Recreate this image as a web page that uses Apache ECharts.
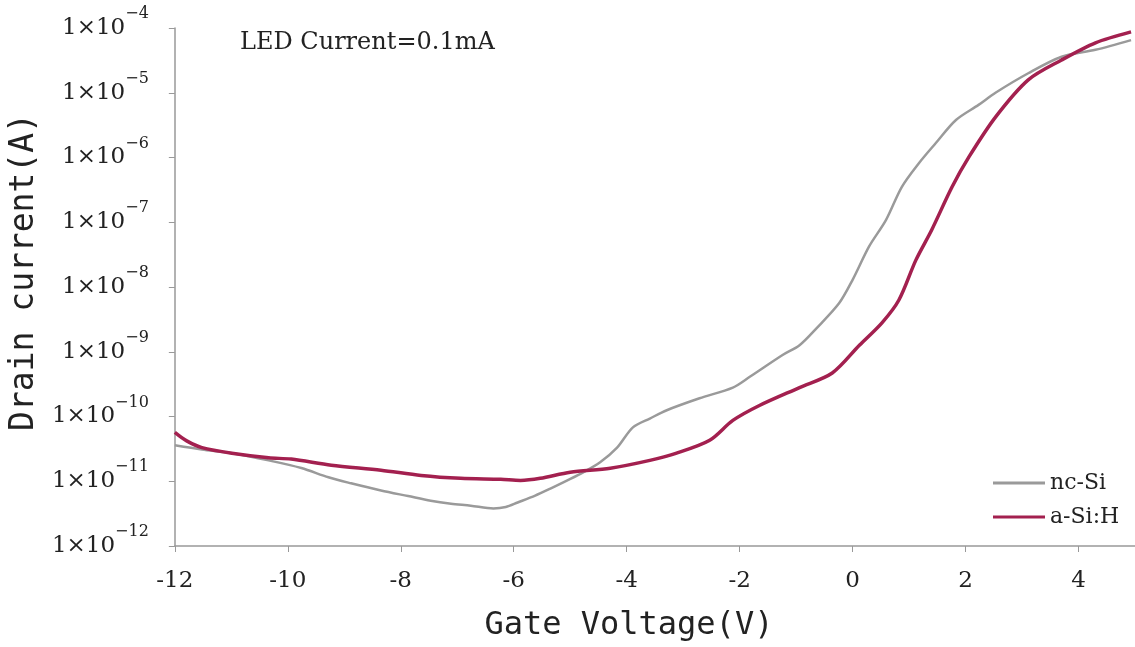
<!DOCTYPE html>
<html>
<head>
<meta charset="utf-8">
<script src="https://cdn.jsdelivr.net/npm/echarts@6/dist/echarts.min.js"></script>
<style>
  html, body { margin: 0; padding: 0; background: #fff; }
  #chart { width: 1135px; height: 647px; }
</style>
</head>
<body>
<div id="chart"></div>
<script>
// gate voltage (V) and drain current (A)
const ncX = [-12, -11.52, -10.99, -10.34, -9.76, -9.28, -8.88, -8.35, -7.87, -7.47, -7.11, -6.76, -6.36, -6.14, -5.93, -5.62, -5.35, -5.05, -4.77, -4.47, -4.17, -3.89, -3.59, -3.29, -2.71, -2.12, -1.82, -1.24, -0.94, -0.64, -0.24, 0.0, 0.29, 0.59, 0.87, 1.17, 1.47, 1.83, 2.23, 2.53, 3.11, 3.70, 4.30, 4.93];
const ncY = [3.6e-11, 3.1e-11, 2.7e-11, 2.1e-11, 1.6e-11, 1.15e-11, 9.3e-12, 7.2e-12, 5.9e-12, 5.0e-12, 4.5e-12, 4.2e-12, 3.8e-12, 4.0e-12, 4.7e-12, 6.0e-12, 7.7e-12, 1.03e-11, 1.37e-11, 1.96e-11, 3.3e-11, 6.8e-11, 9.3e-11, 1.25e-10, 1.91e-10, 2.8e-10, 4.1e-10, 8.9e-10, 1.26e-9, 2.3e-9, 5.6e-9, 1.29e-8, 4.2e-8, 1.08e-7, 3.5e-7, 8.1e-7, 1.66e-6, 3.8e-6, 6.5e-6, 1.0e-5, 2.0e-5, 3.6e-5, 4.6e-5, 6.5e-5];

const aX = [-12, -11.79, -11.52, -10.99, -10.34, -9.94, -9.23, -8.35, -7.64, -6.94, -6.23, -5.88, -5.53, -5.0, -4.29, -3.59, -3.13, -2.53, -2.12, -1.65, -0.94, -0.36, 0.12, 0.52, 0.82, 1.12, 1.40, 1.76, 2.06, 2.53, 3.11, 3.70, 4.30, 4.93];
const aY = [5.7e-11, 4.2e-11, 3.3e-11, 2.7e-11, 2.3e-11, 2.2e-11, 1.77e-11, 1.48e-11, 1.23e-11, 1.11e-11, 1.07e-11, 1.03e-11, 1.11e-11, 1.38e-11, 1.59e-11, 2.1e-11, 2.7e-11, 4.3e-11, 8.7e-11, 1.48e-10, 2.8e-10, 4.7e-10, 1.26e-9, 2.8e-9, 6.3e-9, 2.6e-8, 7.6e-8, 3.5e-7, 1.02e-6, 4.2e-6, 1.58e-5, 3.2e-5, 5.9e-5, 8.7e-5];

const seriesNames = ['nc-Si', 'a-Si:H'];
const note = 'LED Current=0.1mA';

const serif = 'DejaVu Serif';
const mono = 'DejaVu Sans Mono';

const chart = echarts.init(document.getElementById('chart'), null, { renderer: 'canvas' });

const pairs = (xs, ys) => xs.map((x, i) => [x, ys[i]]);

chart.setOption({
  animation: false,
  backgroundColor: '#fff',
  grid: { left: 173, top: 28, width: 964, height: 518 },
  graphic: [{
    type: 'text',
    left: 240,
    top: 31,
    style: { text: note, font: '24px "DejaVu Serif"', fill: '#222' }
  }],
  legend: {
    left: 988,
    top: 467,
    orient: 'vertical',
    icon: 'rect',
    itemWidth: 52,
    itemHeight: 3,
    itemGap: 12,
    textStyle: { fontFamily: serif, fontSize: 22, color: '#222' },
    data: seriesNames
  },
  xAxis: {
    type: 'value',
    min: -12,
    max: 5,
    interval: 2,
    name: 'Gate Voltage(V)',
    nameLocation: 'middle',
    nameGap: 64,
    nameTextStyle: { fontFamily: mono, fontSize: 32, color: '#222', padding: [0, 52, 0, 0] },
    splitLine: { show: false },
    axisLine: { lineStyle: { color: '#999', width: 1.5 } },
    axisTick: { length: 6, lineStyle: { color: '#999' } },
    axisLabel: {
      margin: 24, showMaxLabel: false,
      fontFamily: serif, fontSize: 23, color: '#222'
    }
  },
  yAxis: {
    type: 'log',
    logBase: 10,
    min: 1e-12,
    max: 1e-4,
    name: 'Drain current(A)',
    nameLocation: 'middle',
    nameGap: 124,
    nameTextStyle: { fontFamily: mono, fontSize: 33, color: '#222', padding: [0, 0, 0, 30] },
    splitLine: { show: false },
    axisLine: { show: true, onZero: false, lineStyle: { color: '#999', width: 1.5 } },
    axisTick: { show: true, length: 6, lineStyle: { color: '#999' } },
    axisLabel: {
      margin: 26,
      formatter: v => '{a|1×10}{b|−' + Math.round(-Math.log10(v)) + '}',
      rich: {
        a: { fontFamily: serif, fontSize: 23, color: '#222', lineHeight: 44 },
        b: { fontFamily: serif, fontSize: 16, color: '#222', lineHeight: 10, verticalAlign: 'top' }
      }
    }
  },
  series: [
    {
      name: seriesNames[0],
      type: 'line',
      data: pairs(ncX, ncY),
      symbol: 'none',
      smooth: 0.3,
      color: '#9a9a9a',
      lineStyle: { color: '#9a9a9a', width: 2.5 },
      z: 2
    },
    {
      name: seriesNames[1],
      type: 'line',
      data: pairs(aX, aY),
      symbol: 'none',
      smooth: 0.3,
      color: '#a3204f',
      lineStyle: { color: '#a3204f', width: 3.5 },
      z: 3
    }
  ]
});
</script>
</body>
</html>
